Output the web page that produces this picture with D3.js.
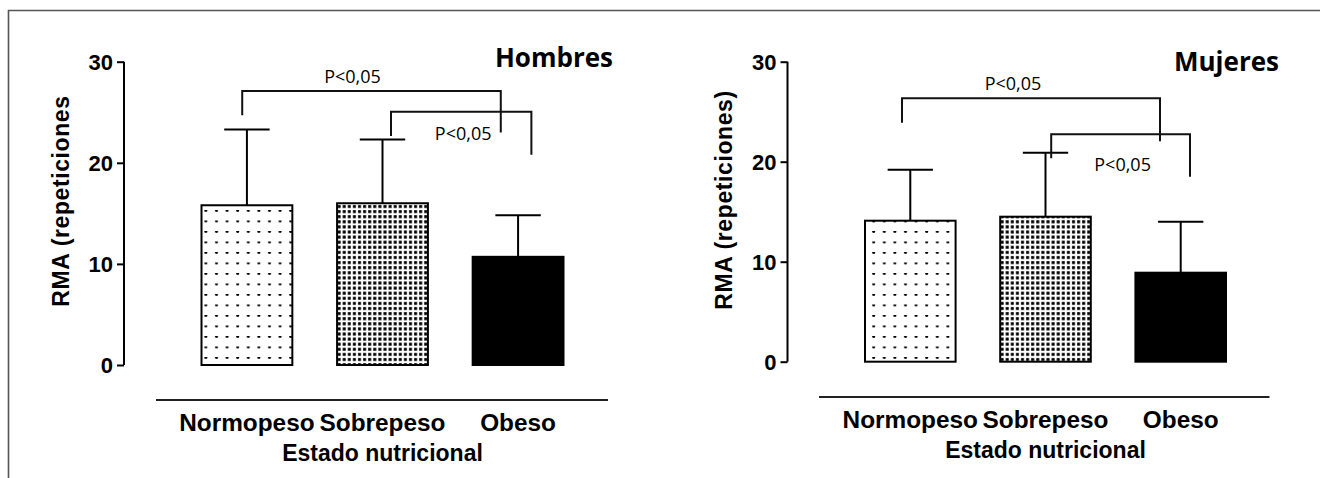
<!DOCTYPE html>
<html>
<head>
<meta charset="utf-8">
<script src="https://cdn.jsdelivr.net/npm/d3@7"></script>
<style>
  body { margin: 0; background: #fff; }
  svg { display: block; }
</style>
</head>
<body>
<div id="chart"></div>
<script>
// datos
var categorias = ["Normopeso", "Sobrepeso", "Obeso"];
var hombresMedia = [15.8, 16.0, 10.7];
var hombresDE = [7.5, 6.3, 4.1];
var mujeresMedia = [14.1, 14.5, 8.9];
var mujeresDE = [5.1, 6.4, 5.1];
var yTicks = [0, 10, 20, 30];
// comparaciones: desde, hasta, altura de la barra, extremo izq, extremo der
var hombresComp = [
  { de: 0, a: 2, top: 27.1, finDe: 24.7, finA: 23.0, texto: "P<0,05", yTexto: 27.9 },
  { de: 1, a: 2, top: 25.05, finDe: 22.65, finA: 20.8, texto: "P<0,05", yTexto: 22.25 }
];
var mujeresComp = [
  { de: 0, a: 2, top: 26.35, finDe: 23.9, finA: 22.05, texto: "P<0,05", yTexto: 27.15 },
  { de: 1, a: 2, top: 22.75, finDe: 20.35, finA: 18.5, texto: "P<0,05", yTexto: 19.1 }
];

var width = 1320, height = 478;

var svg = d3.select('#chart').append('svg')
  .attr('width', width)
  .attr('height', height);

// patrones de puntos
var defs = svg.append('defs');
var p1 = defs.append('pattern').attr('id', 'ralo')
  .attr('patternUnits', 'userSpaceOnUse')
  .attr('width', 10.6).attr('height', 10.5);
p1.append('rect').attr('width', 10.6).attr('height', 10.5).attr('fill', '#fff');
p1.append('circle').attr('cx', 4.5).attr('cy', 0.5).attr('r', 1.5).attr('fill', '#000');

var p2 = defs.append('pattern').attr('id', 'denso')
  .attr('patternUnits', 'userSpaceOnUse')
  .attr('width', 5.1).attr('height', 5.1);
p2.append('rect').attr('width', 5.1).attr('height', 5.1).attr('fill', '#fff');
p2.append('rect').attr('x', 1).attr('y', 1).attr('width', 3).attr('height', 3).attr('fill', '#000');

var rellenos = ['url(#ralo)', 'url(#denso)', '#000'];

// marco
svg.append('path')
  .attr('d', 'M8.5,478 V10.5 H1320')
  .attr('fill', 'none')
  .attr('stroke', '#555')
  .attr('stroke-width', 1.6);

function texto(g, x, y, t, opts) {
  var el = g.append('text')
    .attr('transform', 'translate(' + x + ',' + y + ')' + (opts.sx ? ' scale(' + opts.sx + ',1)' : '') + (opts.rot ? ' rotate(' + opts.rot + ')' : ''))
    .attr('text-anchor', opts.anchor || 'middle')
    .attr('font-family', opts.font || '"Liberation Sans", Arial, sans-serif')
    .attr('font-weight', opts.weight || 'bold')
    .attr('font-size', opts.size)
    .attr('fill', '#000')
    .text(t);
  if (opts.ls) el.attr('letter-spacing', opts.ls);
  return el;
}

function panel(cfg) {
  var g = svg.append('g');

  var x = d3.scaleBand()
    .domain(categorias)
    .range(cfg.xRange)
    .paddingInner(0.33)
    .paddingOuter(0);
  var y = d3.scaleLinear()
    .domain([0, 30])
    .range(cfg.yRange);

  // eje y
  var eje = g.append('g')
    .attr('transform', 'translate(' + cfg.ejeX + ',0)')
    .call(d3.axisLeft(y).tickValues(yTicks).tickSize(7).tickFormat(d3.format('d')));
  eje.select('.domain').attr('stroke-width', 2).attr('d', 'M0,' + y(0) + 'V' + y(30));
  eje.selectAll('.tick line').attr('stroke-width', 2);
  eje.selectAll('.tick text').remove();
  yTicks.forEach(function (t) {
    texto(g, cfg.ejeX - 11, y(t) + 8, t, { size: 22, anchor: 'end' });
  });

  // barras
  var datos = categorias.map(function (c, i) {
    return { cat: c, media: cfg.media[i], de: cfg.de[i], fill: rellenos[i] };
  });

  g.selectAll('rect.barra')
    .data(datos)
    .enter()
    .append('rect')
    .attr('class', 'barra')
    .attr('x', function (d) { return x(d.cat); })
    .attr('y', function (d) { return y(d.media); })
    .attr('width', x.bandwidth())
    .attr('height', function (d) { return y(0) - y(d.media); })
    .attr('fill', function (d) { return d.fill; })
    .attr('stroke', '#000')
    .attr('stroke-width', 2);

  // barras de error
  var err = g.selectAll('g.err')
    .data(datos)
    .enter()
    .append('g')
    .attr('class', 'err')
    .attr('stroke', '#000')
    .attr('stroke-width', 2);
  err.append('line')
    .attr('x1', function (d) { return x(d.cat) + x.bandwidth() / 2; })
    .attr('x2', function (d) { return x(d.cat) + x.bandwidth() / 2; })
    .attr('y1', function (d) { return y(d.media); })
    .attr('y2', function (d) { return y(d.media + d.de); });
  err.append('line')
    .attr('x1', function (d) { return x(d.cat) + x.bandwidth() / 4; })
    .attr('x2', function (d) { return x(d.cat) + x.bandwidth() * 3 / 4; })
    .attr('y1', function (d) { return y(d.media + d.de); })
    .attr('y2', function (d) { return y(d.media + d.de); });

  // comparaciones
  cfg.comp.forEach(function (c, i) {
    var off = cfg.offsets[i];
    var x1 = x(categorias[c.de]) + x.bandwidth() / 2 + off[0];
    var x2 = x(categorias[c.a]) + x.bandwidth() / 2 + off[1];
    g.append('path')
      .attr('d', 'M' + x1 + ',' + y(c.finDe) + 'V' + y(c.top) + 'H' + x2 + 'V' + y(c.finA))
      .attr('fill', 'none')
      .attr('stroke', '#111')
      .attr('stroke-width', 2);
    texto(g, (x1 + x2) / 2 + off[2], y(c.yTexto), c.texto,
      { size: 18, weight: 'normal', font: '"Open Sans", sans-serif' });
  });

  // titulo
  texto(g, cfg.tituloX, cfg.tituloY, cfg.titulo,
    { size: 26, weight: 'bold', font: '"Open Sans", sans-serif' });

  // eje x separado
  g.append('line')
    .attr('x1', cfg.lineaX[0]).attr('x2', cfg.lineaX[1])
    .attr('y1', cfg.lineaY).attr('y2', cfg.lineaY)
    .attr('stroke', '#222').attr('stroke-width', 1.8);
  categorias.forEach(function (c) {
    texto(g, x(c) + x.bandwidth() / 2, cfg.lineaY + 31, c, { size: 23, sx: 1.06 });
  });
  texto(g, x(categorias[1]) + x.bandwidth() / 2, cfg.lineaY + 61, 'Estado nutricional', { size: 23 });

  // titulo eje y
  texto(g, cfg.yLabelX, cfg.yLabelY, cfg.yLabel,
    { size: 23, rot: -90, ls: 0.6 });
}

panel({
  xRange: [201.5, 563.5], yRange: [365, 61.7], ejeX: 124,
  media: hombresMedia, de: hombresDE, comp: hombresComp,
  offsets: [[-4.7, -17.3, -19], [8.5, 13.3, 2]],
  titulo: 'Hombres', tituloX: 554, tituloY: 66.5,
  lineaX: [156, 608], lineaY: 400,
  yLabel: 'RMA (repeticiones', yLabelX: 69, yLabelY: 201
});

panel({
  xRange: [865, 1226], yRange: [361.7, 61.7], ejeX: 787.5,
  media: mujeresMedia, de: mujeresDE, comp: mujeresComp,
  offsets: [[-8.3, -20.7, -18], [5.7, 9.3, 2]],
  titulo: 'Mujeres', tituloX: 1226.5, tituloY: 70.5,
  lineaX: [819, 1269.5], lineaY: 397,
  yLabel: 'RMA  (repeticiones)', yLabelX: 732, yLabelY: 200
});
</script>
</body>
</html>
